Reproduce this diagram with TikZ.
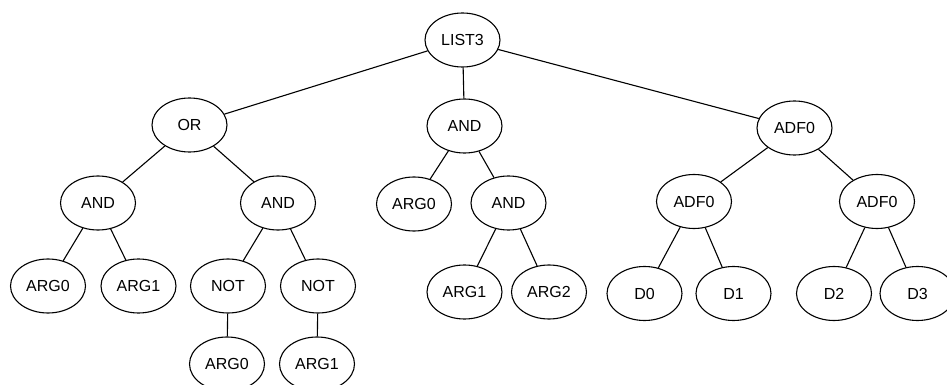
\documentclass[tikz,border=0pt]{standalone}
\usepackage{fontspec}
\setmainfont{Liberation Sans}
\usetikzlibrary{shapes.geometric}
\begin{document}
\begin{tikzpicture}[x=1pt,y=-1pt,
  tn/.style={ellipse,draw,line width=1.1pt,minimum width=75pt,minimum height=54pt,inner sep=0pt,font=\fontsize{16}{19}\selectfont},
  ed/.style={line width=1.1pt}]
\useasboundingbox (0,0) rectangle (947,385);
\node[tn] (list3) at (462.5,40) {LIST3};
\node[tn] (or) at (189.5,125) {OR};
\node[tn] (andm) at (464.5,126) {AND};
\node[tn] (adfr) at (794.5,128) {ADF0};
\node[tn] (andl) at (98,203) {AND};
\node[tn] (andl2) at (278,203) {AND};
\node[tn] (argm0) at (414,204) {ARG0};
\node[tn] (andm2) at (508.5,203) {AND};
\node[tn] (adf1) at (694,201.5) {ADF0};
\node[tn] (adf2) at (877,201.5) {ADF0};
\node[tn] (a0) at (48,286) {ARG0};
\node[tn] (a1) at (138.5,286) {ARG1};
\node[tn] (not1) at (228,286) {NOT};
\node[tn] (not2) at (318,286) {NOT};
\node[tn] (b0) at (227,364) {ARG0};
\node[tn] (b1) at (317,364) {ARG1};
\node[tn] (c1) at (464.5,292) {ARG1};
\node[tn] (c2) at (549,292) {ARG2};
\node[tn] (d0) at (644.5,293.5) {D0};
\node[tn] (d1) at (733.5,293.5) {D1};
\node[tn] (d2) at (834,293.5) {D2};
\node[tn] (d3) at (917.5,293.5) {D3};
\draw[ed] (list3) -- (or);
\draw[ed] (list3) -- (andm);
\draw[ed] (list3) -- (adfr);
\draw[ed] (or) -- (andl);
\draw[ed] (or) -- (andl2);
\draw[ed] (andl) -- (a0);
\draw[ed] (andl) -- (a1);
\draw[ed] (andl2) -- (not1);
\draw[ed] (andl2) -- (not2);
\draw[ed] (not1) -- (b0);
\draw[ed] (not2) -- (b1);
\draw[ed] (andm) -- (argm0);
\draw[ed] (andm) -- (andm2);
\draw[ed] (andm2) -- (c1);
\draw[ed] (andm2) -- (c2);
\draw[ed] (adfr) -- (adf1);
\draw[ed] (adfr) -- (adf2);
\draw[ed] (adf1) -- (d0);
\draw[ed] (adf1) -- (d1);
\draw[ed] (adf2) -- (d2);
\draw[ed] (adf2) -- (d3);
\end{tikzpicture}
\end{document}
